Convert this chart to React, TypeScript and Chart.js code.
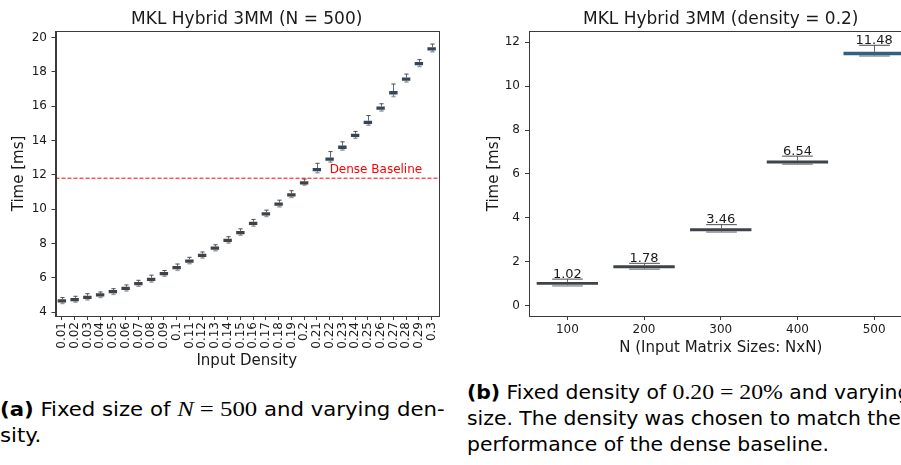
import React, { useEffect, useRef } from 'react';
import { Chart, registerables } from 'chart.js';

Chart.register(...registerables);

const FONT = '"DejaVu Sans", sans-serif';
const TEXT = '#1a1a1a';
const SPINE = '#3a3a3a';

// ---------- Left chart: fixed N = 500, varying density ----------
const densityLabels = [
  '0.01', '0.02', '0.03', '0.04', '0.05', '0.06', '0.07', '0.08', '0.09', '0.1',
  '0.11', '0.12', '0.13', '0.14', '0.15', '0.16', '0.17', '0.18', '0.19', '0.2',
  '0.21', '0.22', '0.23', '0.24', '0.25', '0.26', '0.27', '0.28', '0.29', '0.3',
];
const densityMedian = [
  4.64, 4.72, 4.85, 4.99, 5.18, 5.38, 5.65, 5.90, 6.24, 6.58,
  6.97, 7.30, 7.72, 8.17, 8.63, 9.16, 9.72, 10.28, 10.83, 11.53,
  12.29, 12.91, 13.60, 14.29, 15.05, 15.88, 16.78, 17.57, 18.47, 19.34,
];
const densityQ1 = [
  4.55, 4.63, 4.76, 4.90, 5.09, 5.29, 5.56, 5.81, 6.15, 6.49,
  6.88, 7.21, 7.63, 8.08, 8.54, 9.07, 9.63, 10.19, 10.74, 11.44,
  12.20, 12.82, 13.51, 14.20, 14.96, 15.79, 16.68, 17.48, 18.38, 19.25,
];
const densityQ3 = [
  4.74, 4.82, 4.95, 5.09, 5.28, 5.48, 5.75, 6.00, 6.34, 6.68,
  7.07, 7.40, 7.82, 8.27, 8.73, 9.26, 9.82, 10.38, 10.93, 11.63,
  12.39, 13.01, 13.70, 14.39, 15.15, 15.98, 16.88, 17.67, 18.57, 19.44,
];
const densityWhiskerLow = [
  4.50, 4.58, 4.71, 4.85, 5.03, 5.23, 5.50, 5.75, 6.09, 6.43,
  6.82, 7.15, 7.57, 8.02, 8.48, 9.01, 9.57, 10.13, 10.68, 11.40,
  12.12, 12.74, 13.44, 14.13, 14.89, 15.72, 16.56, 17.41, 18.31, 19.17,
];
const densityWhiskerHigh = [
  4.84, 4.92, 5.07, 5.17, 5.36, 5.58, 5.85, 6.15, 6.42, 6.80,
  7.19, 7.50, 7.92, 8.39, 8.85, 9.40, 9.94, 10.52, 11.07, 11.75,
  12.67, 13.35, 13.92, 14.53, 15.45, 16.14, 17.29, 17.87, 18.71, 19.62,
];
const leftYTicks = [4, 6, 8, 10, 12, 14, 16, 18, 20];
const denseBaseline = 11.8;

// ---------- Right chart: fixed density = 0.2, varying N ----------
const sizeLabels = ['100', '200', '300', '400', '500'];
const sizeMedian = [1.02, 1.78, 3.46, 6.54, 11.48];
const sizeQ1 = [0.95, 1.71, 3.39, 6.47, 11.41];
const sizeQ3 = [1.08, 1.84, 3.53, 6.61, 11.56];
const sizeWhiskerLow = [0.90, 1.66, 3.35, 6.44, 11.37];
const sizeWhiskerHigh = [1.21, 1.93, 3.69, 6.81, 11.86];
const rightYTicks = [0, 2, 4, 6, 8, 10, 12];

const boxPlugin = {
  id: 'boxWhiskers',
  beforeDatasetsDraw(chart: any, _args: any, opts: any) {
    const { ctx } = chart;
    const y = chart.scales.y;
    const meta = chart.getDatasetMeta(0);
    ctx.save();
    meta.data.forEach((bar: any, i: number) => {
      const x = Math.round(bar.x) + 0.5;
      const w = bar.width;
      const yHi = y.getPixelForValue(opts.highs[i]);
      const yLo = y.getPixelForValue(opts.lows[i]);
      const yQ3 = y.getPixelForValue(opts.q3[i]);
      const yQ1 = y.getPixelForValue(opts.q1[i]);
      const cw = w * opts.capRatio;
      ctx.lineWidth = 1;
      ctx.strokeStyle = opts.whiskerColor;
      ctx.beginPath();
      ctx.moveTo(x, yHi);
      ctx.lineTo(x, yQ3);
      ctx.moveTo(x, yQ1);
      ctx.lineTo(x, yLo);
      ctx.stroke();
      ctx.strokeStyle = opts.capColor;
      ctx.beginPath();
      ctx.moveTo(x - cw / 2, yHi);
      ctx.lineTo(x + cw / 2, yHi);
      ctx.stroke();
      ctx.strokeStyle = opts.lowCapColor;
      ctx.lineWidth = 1.5;
      ctx.beginPath();
      ctx.moveTo(x - cw / 2, yLo);
      ctx.lineTo(x + cw / 2, yLo);
      ctx.stroke();
    });
    ctx.restore();
  },
  afterDatasetsDraw(chart: any, _args: any, opts: any) {
    const { ctx } = chart;
    const y = chart.scales.y;
    const meta = chart.getDatasetMeta(0);
    ctx.save();
    if (opts.showLabels) {
      ctx.font = `13px ${FONT}`;
      ctx.fillStyle = TEXT;
      ctx.textAlign = 'center';
      ctx.textBaseline = 'alphabetic';
      meta.data.forEach((bar: any, i: number) => {
        const yHi = y.getPixelForValue(opts.highs[i]);
        ctx.fillText(opts.medians[i].toFixed(2), bar.x, yHi - 1.5);
      });
    }
    if (opts.baseline != null) {
      const a = chart.chartArea;
      const yb = y.getPixelForValue(opts.baseline);
      ctx.strokeStyle = '#ff0000';
      ctx.lineWidth = 1;
      ctx.setLineDash([4, 2]);
      ctx.beginPath();
      ctx.moveTo(a.left, yb);
      ctx.lineTo(a.right, yb);
      ctx.stroke();
      ctx.setLineDash([]);
      ctx.font = `12px ${FONT}`;
      ctx.fillStyle = '#ff0000';
      ctx.textAlign = 'left';
      ctx.textBaseline = 'middle';
      const xl = chart.scales.x.getPixelForValue(opts.baselineLabelIndex);
      ctx.fillText(opts.baselineLabel, xl, y.getPixelForValue(opts.baselineLabelValue));
    }
    ctx.restore();
  },
  afterDraw(chart: any) {
    const { ctx, chartArea: a } = chart;
    ctx.save();
    ctx.strokeStyle = SPINE;
    ctx.lineWidth = 1;
    ctx.strokeRect(Math.round(a.left) + 0.5, Math.round(a.top) + 0.5, Math.round(a.right - a.left), Math.round(a.bottom - a.top));
    ctx.restore();
  },
};

function axisCommon(tickPadding: number) {
  return {
    grid: { display: true, drawOnChartArea: false, drawTicks: true, tickLength: 4, color: SPINE, offset: false },
    border: { display: true, color: SPINE, width: 1 },
    ticks: { font: { family: FONT, size: 12 }, color: TEXT, padding: tickPadding },
  };
}

function App() {
  const leftRef = useRef<HTMLCanvasElement>(null);
  const rightRef = useRef<HTMLCanvasElement>(null);

  useEffect(() => {
    const left = new Chart(leftRef.current as HTMLCanvasElement, {
      type: 'bar',
      data: {
        labels: densityLabels,
        datasets: [
          {
            data: densityQ1.map((v, i) => [v, densityQ3[i]]) as any,
            backgroundColor: densityLabels.map((_, i) => (i < 20 ? '#3d4349' : '#34475a')),
            borderWidth: 0,
            borderSkipped: false,
            barPercentage: 0.66,
            categoryPercentage: 1,
          },
        ],
      },
      options: {
        responsive: false,
        animation: false,
        layout: { padding: { left: 0, right: 12, top: 0, bottom: 0 } },
        plugins: {
          legend: { display: false },
          tooltip: { enabled: false },
          title: {
            display: true,
            fullSize: false,
            text: 'MKL Hybrid 3MM (N = 500)',
            font: { family: FONT, size: 17, weight: 'normal' },
            color: TEXT,
            padding: { top: 9.3, bottom: 1.3 },
          },
          boxWhiskers: {
            q1: densityQ1,
            q3: densityQ3,
            lows: densityWhiskerLow,
            highs: densityWhiskerHigh,
            medians: densityMedian,
            capRatio: 0.5,
            whiskerColor: '#6a6a6a',
            capColor: '#4a4a4a',
            lowCapColor: '#9a9a9a',
            showLabels: false,
            baseline: denseBaseline,
            baselineLabel: 'Dense Baseline',
            baselineLabelIndex: 21,
            baselineLabelValue: 12.3,
          },
        } as any,
        scales: {
          x: {
            ...axisCommon(2),
            ticks: {
              font: { family: FONT, size: 12 },
              color: TEXT,
              padding: 2,
              autoSkip: false,
              minRotation: 90,
              maxRotation: 90,
            },
            title: { display: true, text: 'Input Density', font: { family: FONT, size: 15 }, color: TEXT, padding: 0 },
            afterFit: (s: any) => {
              s.height = 54;
            },
          } as any,
          y: {
            ...axisCommon(4.5),
            min: 3.77,
            max: 20.38,
            afterBuildTicks: (s: any) => {
              s.ticks = leftYTicks.map((v) => ({ value: v }));
            },
            title: { display: true, text: 'Time [ms]', font: { family: FONT, size: 15 }, color: TEXT, padding: { top: 10, bottom: 0 } },
            afterFit: (s: any) => {
              s.width = 55.5;
            },
          } as any,
        },
      },
      plugins: [boxPlugin],
    });

    const right = new Chart(rightRef.current as HTMLCanvasElement, {
      type: 'bar',
      data: {
        labels: sizeLabels,
        datasets: [
          {
            data: sizeQ1.map((v, i) => [v, sizeQ3[i]]) as any,
            backgroundColor: sizeLabels.map((_, i) => (i < 4 ? '#3d4349' : '#33607f')),
            borderWidth: 0,
            borderSkipped: false,
            barPercentage: 0.8,
            categoryPercentage: 1,
          },
        ],
      },
      options: {
        responsive: false,
        animation: false,
        layout: { padding: { left: 0, right: 17.5, top: 0, bottom: 0 } },
        plugins: {
          legend: { display: false },
          tooltip: { enabled: false },
          title: {
            display: true,
            fullSize: false,
            text: 'MKL Hybrid 3MM (density = 0.2)',
            font: { family: FONT, size: 17, weight: 'normal' },
            color: TEXT,
            padding: { top: 9.3, bottom: 1.3 },
          },
          boxWhiskers: {
            q1: sizeQ1,
            q3: sizeQ3,
            lows: sizeWhiskerLow,
            highs: sizeWhiskerHigh,
            medians: sizeMedian,
            capRatio: 0.5,
            whiskerColor: '#6a6a6a',
            capColor: '#4a4a4a',
            lowCapColor: '#9a9a9a',
            showLabels: true,
            baseline: null,
          },
        } as any,
        scales: {
          x: {
            ...axisCommon(2.8),
            title: { display: true, text: 'N (Input Matrix Sizes: NxN)', font: { family: FONT, size: 15 }, color: TEXT, padding: 0 },
            afterFit: (s: any) => {
              s.height = 41;
            },
          } as any,
          y: {
            ...axisCommon(5),
            min: -0.47,
            max: 12.51,
            afterBuildTicks: (s: any) => {
              s.ticks = rightYTicks.map((v) => ({ value: v }));
            },
            title: { display: true, text: 'Time [ms]', font: { family: FONT, size: 15 }, color: TEXT, padding: { top: 15, bottom: 0 } },
            afterFit: (s: any) => {
              s.width = 59;
            },
          } as any,
        },
      },
      plugins: [boxPlugin],
    });

    return () => {
      left.destroy();
      right.destroy();
    };
  }, []);

  const capFont = '"DejaVu Sans Condensed", "Liberation Sans Narrow", "Liberation Sans", sans-serif';
  const mathFont = '"Liberation Serif", "DejaVu Serif", serif';
  const capStyle: React.CSSProperties = {
    position: 'absolute',
    fontFamily: capFont,
    fontStretch: 'condensed',
    fontSize: 20,
    lineHeight: '26px',
    color: '#000',
    whiteSpace: 'nowrap',
    transformOrigin: '0 0',
  };
  const math: React.CSSProperties = { fontFamily: mathFont, fontStretch: 'normal', fontSize: 21 };

  return (
    <div style={{ position: 'fixed', left: 0, top: 0, width: 901, height: 465, overflow: 'hidden', background: '#fff' }}>
      <canvas ref={leftRef} width={450} height={370} style={{ position: 'absolute', left: 0, top: 0, width: 450, height: 370 }} />
      <canvas ref={rightRef} width={460} height={357} style={{ position: 'absolute', left: 470, top: 0, width: 460, height: 357 }} />
      <div style={{ ...capStyle, left: 0, top: 396, transform: 'scaleX(1.18)' }}>
        <div>
          <b>(a)</b> Fixed size of <span style={math}><i>N</i> = 500</span> and varying den-
        </div>
        <div>sity.</div>
      </div>
      <div style={{ ...capStyle, left: 467, top: 379, transform: 'scaleX(1.13)' }}>
        <div>
          <b>(b)</b> Fixed density of <span style={math}>0.20 = 20%</span> and varying
        </div>
        <div>size. The density was chosen to match the</div>
        <div>performance of the dense baseline.</div>
      </div>
    </div>
  );
}

export default App;
